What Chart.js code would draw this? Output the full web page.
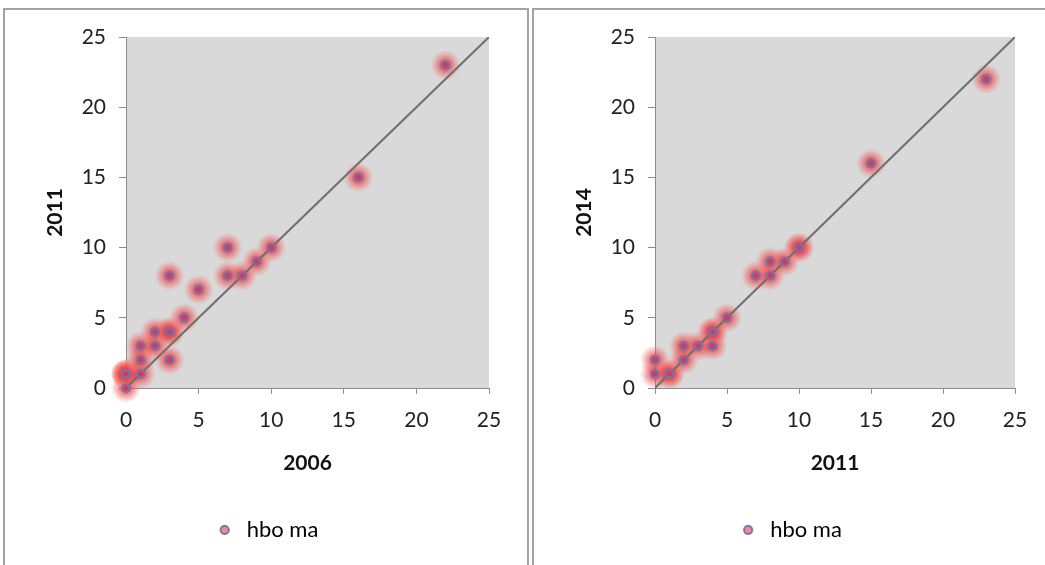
<!DOCTYPE html>
<html><head><meta charset="utf-8">
<script src="https://cdn.jsdelivr.net/npm/chart.js@4.4.1/dist/chart.umd.min.js"></script>
<style>
html,body{margin:0;padding:0;background:#fff;width:1045px;height:565px;overflow:hidden;}
.panel{position:absolute;top:8px;height:600px;border:2px solid #a3a3a3;box-sizing:border-box;background:#fff;}
#p1{left:3px;width:526px;}
#p2{left:532px;width:530px;}
.wrap{position:absolute;left:0;top:0;height:555px;}
#p1 .wrap{width:522px;}
#p2 .wrap{width:511px;}
</style></head><body>
<div class="panel" id="p1"><div class="wrap"><canvas id="c1"></canvas></div></div>
<div class="panel" id="p2"><div class="wrap"><canvas id="c2"></canvas></div></div>
<script>
// Left chart: 2006 vs 2011
const x2006 = [0, 0, 0, 0, 0, 1, 1, 1, 2, 2, 3, 3, 3, 3, 4, 5, 7, 7, 8, 9, 10, 16, 22];
const y2011 = [0, 1, 1, 1, 1, 1, 2, 3, 3, 4, 4, 4, 2, 8, 5, 7, 10, 8, 8, 9, 10, 15, 23];
// Right chart: 2011 vs 2014
const x2011 = [0, 0, 1, 1, 2, 2, 3, 4, 4, 4, 5, 7, 8, 8, 9, 10, 10, 15, 23];
const y2014 = [2, 1, 1, 1, 2, 3, 3, 3, 4, 4, 5, 8, 8, 9, 9, 10, 10, 16, 22];
const diagonal = [0, 25];
const axisTicks = [0, 5, 10, 15, 20, 25];
const seriesName = 'hbo ma';

function makeGlow(){
  const c=document.createElement('canvas'); c.width=32; c.height=32;
  const g=c.getContext('2d');
  const rg=g.createRadialGradient(16,16,2,16,16,15);
  rg.addColorStop(0,'rgba(238,40,40,0.85)');
  rg.addColorStop(0.45,'rgba(238,80,80,0.55)');
  rg.addColorStop(0.75,'rgba(240,120,120,0.3)');
  rg.addColorStop(1,'rgba(240,140,140,0)');
  g.fillStyle=rg; g.beginPath(); g.arc(16,16,15,0,Math.PI*2); g.fill();
  return c;
}
function makeMarker(){
  const c=document.createElement('canvas'); c.width=12; c.height=12;
  const g=c.getContext('2d');
  g.fillStyle='#7b6fae'; g.beginPath(); g.arc(6,6,5,0,Math.PI*2); g.fill();
  g.fillStyle='#f0303a'; g.beginPath(); g.arc(6,6,2.4,0,Math.PI*2); g.fill();
  return c;
}
function makeLegendMarker(){
  const c=document.createElement('canvas'); c.width=12; c.height=12;
  const g=c.getContext('2d');
  g.fillStyle='#6e6aa8'; g.beginPath(); g.arc(6,6,5,0,Math.PI*2); g.fill();
  g.fillStyle='#f08a98'; g.beginPath(); g.arc(6,6,3.2,0,Math.PI*2); g.fill();
  return c;
}
const glowImg=makeGlow(), markImg=makeMarker(), legImg=makeLegendMarker();

const bgPlugin={id:'bg',beforeDraw(chart){const a=chart.chartArea,ctx=chart.ctx;ctx.save();ctx.fillStyle='#d9d9d9';ctx.fillRect(a.left,a.top,a.right-a.left,a.bottom-a.top);ctx.restore();}};

function build(id, xs, ys, xTitle, yTitle, rightPad){
  const pts=xs.map((v,i)=>({x:v,y:ys[i]}));
  const font='Lato, "Liberation Sans", sans-serif';
  new Chart(document.getElementById(id),{
    type:'scatter',
    data:{datasets:[
      {label:seriesName,data:pts,pointStyle:markImg,pointRadius:5,order:1,clip:false},
      {label:'line',data:diagonal.map(v=>({x:v,y:v})),showLine:true,borderColor:'#6f6f6f',borderWidth:2,pointRadius:0,order:2},
      {label:'glow',data:pts,pointStyle:glowImg,pointRadius:15,order:3,clip:false}
    ]},
    options:{
      responsive:true,maintainAspectRatio:false,animation:false,
      layout:{padding:{left:0,right:0,top:27,bottom:14}},
      plugins:{
        tooltip:{enabled:false},
        legend:{position:'bottom',
          labels:{usePointStyle:true,font:{family:font,size:22},color:'#111',padding:10,
            generateLabels:()=>[{text:seriesName,pointStyle:legImg,fillStyle:'#f08a98',strokeStyle:'#6e6aa8',lineWidth:0,hidden:false,datasetIndex:0}]}}
      },
      scales:{
        x:{type:'linear',min:0,max:25,afterBuildTicks:s=>{s.ticks=axisTicks.map(v=>({value:v}));},
          afterFit:s=>{s.height=121;},
          grid:{display:true,drawOnChartArea:false,drawTicks:true,tickLength:6,color:'#8c8c8c'},
          border:{display:true,color:'#8c8c8c',width:1},
          ticks:{font:{family:font,size:21},color:'#222',padding:14,maxRotation:0},
          title:{display:true,text:xTitle,font:{family:font,size:21,weight:'bold'},color:'#111',padding:{top:0,bottom:33}}},
        y:{type:'linear',min:0,max:25,afterBuildTicks:s=>{s.ticks=axisTicks.map(v=>({value:v}));},
          afterFit:s=>{s.width=121;},
          grid:{display:true,drawOnChartArea:false,drawTicks:true,tickLength:7,color:'#8c8c8c'},
          border:{display:true,color:'#8c8c8c',width:1},
          ticks:{font:{family:font,size:21},color:'#222',padding:13},
          title:{display:true,text:yTitle,font:{family:font,size:21,weight:'bold'},color:'#111',padding:{top:38,bottom:0}}},
        yr:{type:'linear',position:'right',display:true,afterFit:s=>{s.width=rightPad;},
          grid:{display:false},border:{display:false},ticks:{display:false}}
      }
    },
    plugins:[bgPlugin]
  });
}
build('c1',x2006,y2011,'2006','2011',38);
build('c2',x2011,y2014,'2011','2014',30);
</script></body></html>
